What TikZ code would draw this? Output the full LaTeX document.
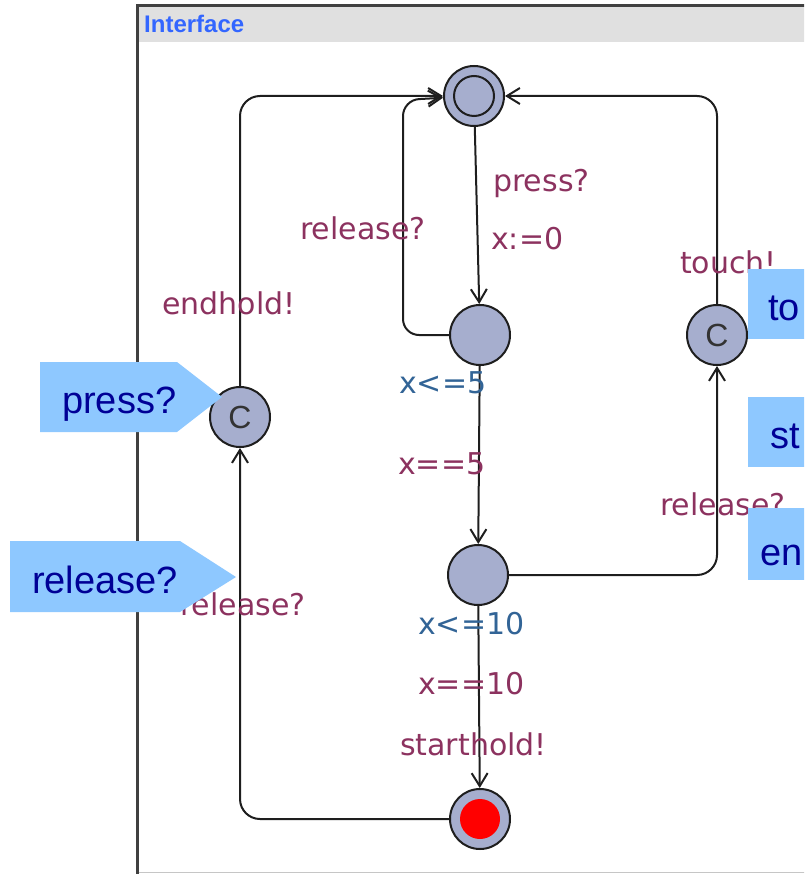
\documentclass[tikz,border=0pt]{standalone}
\usepackage{fontspec}
\setmainfont{DejaVu Sans}
\newfontfamily\callfont{Liberation Sans}
\usetikzlibrary{arrows.meta}
\definecolor{locfill}{RGB}{166,174,206}
\definecolor{synccol}{RGB}{140,50,95}
\definecolor{invcol}{RGB}{50,100,150}
\definecolor{callfill}{RGB}{142,200,255}
\definecolor{calltext}{RGB}{0,0,150}
\definecolor{titleblue}{RGB}{51,102,255}
\definecolor{headgray}{RGB}{224,224,224}
\definecolor{framegray}{RGB}{64,64,64}
\definecolor{linecol}{RGB}{30,30,30}
\begin{document}
\begin{tikzpicture}[x=1pt,y=-1pt,
  loc/.style={circle,draw=linecol,line width=2pt,fill=locfill,minimum size=60pt,inner sep=0pt},
  committed/.style={loc,font=\callfont\fontsize{32}{32}\selectfont,text=black!80},
  trans/.style={draw=linecol,line width=2pt,-{Straight Barb[length=13pt,width=16pt]}},
  synclab/.style={font=\fontsize{30}{30}\selectfont,text=synccol,inner sep=0pt,anchor=base west},
  invlab/.style={font=\fontsize{30}{30}\selectfont,text=invcol,inner sep=0pt,anchor=base west},
  callbox/.style={fill=callfill,draw=none},
  calltxt/.style={font=\callfont\fontsize{38}{38}\selectfont,text=calltext,inner sep=0pt,anchor=base west},
]
\useasboundingbox (0,0) rectangle (804,874);
\clip (0,0) rectangle (804,874);

% window frame and title bar
\fill[headgray] (139,7) rectangle (810,42);
\node[font=\callfont\bfseries\fontsize{24}{24}\selectfont,text=titleblue,inner sep=0pt,anchor=base west] (title) at (144,33) {Interface};
\draw[gray!45,line width=1.5pt] (138,872.5) -- (810,872.5);
\draw[framegray,line width=3pt] (137.5,880) -- (137.5,5.5) -- (810,5.5);

% locations
\node[loc] (I) at (474,96) {};
\draw[linecol,line width=2pt] (I.center) circle (20pt);
\node[loc] (B) at (480,335) {};
\node[loc] (C) at (478,575) {};
\node[loc] (D) at (480,819) {};
\fill[red] (D.center) circle (20pt);
\node[committed] (L) at (240,417) {C};
\node[committed] (R) at (717,335) {C};

% transitions
\draw[trans] (I) -- (B);
\draw[trans] (B) -- (C);
\draw[trans] (C) -- (D);
\draw[trans,rounded corners=16pt] (B.west) -- (403,335) -- (403,100) -- (I);
\draw[trans,rounded corners=20pt] (L.north) -- (L.north |- I.west) -- (I.west);
\draw[trans,rounded corners=20pt] (R.north) -- (R.north |- I.east) -- (I.east);
\draw[trans,rounded corners=20pt] (C.east) -- (C.east -| R.south) -- (R.south);
\draw[trans,rounded corners=20pt] (D.west) -- (D.west -| L.south) -- (L.south);

% labels
\node[synclab] (l1) at (493,192) {press?};
\node[synclab] (l2) at (491,250) {x:=0};
\node[synclab] (l3) at (300,240) {release?};
\node[synclab] (l4) at (680,273) {touch!};
\node[synclab] (l5) at (162,314) {endhold!};
\node[invlab]  (l6) at (399,393) {x<=5};
\node[synclab] (l7) at (398,474) {x==5};
\node[synclab] (l8) at (660,515) {release?};
\node[synclab] (l9) at (180,615) {release?};
\node[invlab]  (l10) at (418,634) {x<=10};
\node[synclab] (l11) at (418,694) {x==10};
\node[synclab] (l12) at (400,755) {starthold!};

% callouts
\fill[callbox] (40,362) -- (177,362) -- (222,397) -- (177,432) -- (40,432) -- cycle;
\node[calltxt] (c1) at (62,413) {press?};
\fill[callbox] (10,541) -- (180,541) -- (236,577) -- (180,612) -- (10,612) -- cycle;
\node[calltxt] (c2) at (32,593) {release?};
\fill[callbox] (748,269) rectangle (830,339);
\node[calltxt] (c3) at (768,320) {to};
\fill[callbox] (748,397) rectangle (830,467);
\node[calltxt] (c4) at (770,448) {st};
\fill[callbox] (748,508) rectangle (830,580);
\node[calltxt] (c5) at (760,565) {en};
\end{tikzpicture}
\end{document}
